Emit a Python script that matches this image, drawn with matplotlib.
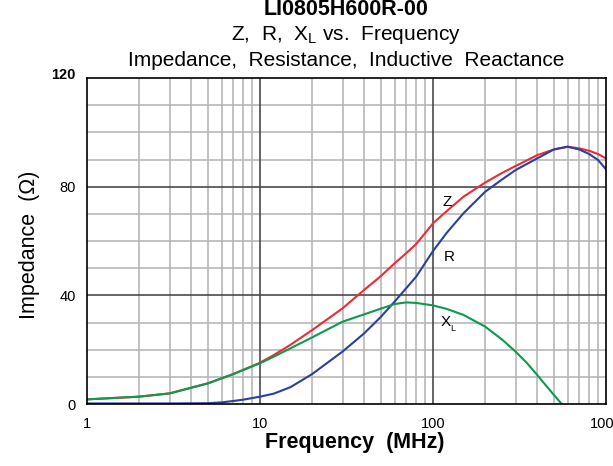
import matplotlib
matplotlib.use("Agg")
import matplotlib.pyplot as plt
from matplotlib.ticker import NullLocator

plt.rcParams['font.family'] = ['Liberation Sans', 'DejaVu Sans']
plt.rcParams['mathtext.fontset'] = 'custom'
plt.rcParams['mathtext.rm'] = 'Liberation Sans'

# Data
freq_z = [1, 2, 3, 5, 7, 10, 12, 15, 20, 30, 40, 50, 60, 70, 80, 100, 120, 150, 200, 250, 300, 400, 500, 600, 700, 800, 900, 1000]
z_vals = [1.7, 2.7, 3.9, 7.6, 11, 15.2, 18.0, 21.8, 27.2, 35.2, 42, 47.1, 51.8, 55.5, 58.9, 66.5, 71.0, 76.3, 81.5, 85.0, 87.6, 91.6, 93.7, 94.7, 94.1, 93.2, 92, 90.4]

freq_r = [1, 2, 3, 5, 6, 7, 8, 10, 12, 15, 20, 30, 40, 50, 60, 70, 80, 100, 120, 150, 200, 250, 300, 400, 500, 600, 700, 800, 900, 1000]
r_vals = [0.2, 0.2, 0.2, 0.3, 0.6, 1.1, 1.6, 2.7, 3.8, 6.2, 11, 19.3, 26, 32.1, 37.7, 42.6, 46.9, 56.3, 63.0, 70.2, 78.1, 82.6, 86.1, 90.4, 93.7, 94.7, 93.7, 92, 89.8, 86.4]

freq_x = [1, 2, 3, 5, 7, 10, 12, 15, 20, 30, 40, 50, 60, 70, 80, 100, 120, 150, 200, 250, 300, 350, 400, 450, 500, 530, 554]
x_vals = [1.7, 2.7, 3.9, 7.6, 11, 15, 17.4, 20.5, 24.5, 30.3, 33, 35.1, 36.8, 37.4, 37.2, 36.3, 35.0, 32.8, 28.5, 23.8, 19.3, 15.0, 10.7, 6.8, 3.3, 1.5, 0]

x_ticks = [1, 10, 100, 1000]
x_ticklabels = ["1", "10", "100", "1000"]
y_ticks = [0, 40, 80]
y_ticklabels = ["0", "40", "80"]
y_top_label = "120"

W, H = 613, 466
fig = plt.figure(figsize=(W / 100, H / 100), dpi=100)
ax = fig.add_axes([87 / W, (H - 404) / H, 519 / W, 326 / H])

ax.set_xscale('log')
ax.set_xlim(1, 1000)
ax.set_ylim(0, 120)

# grid
minor_x = [m * 10 ** e for e in range(0, 3) for m in range(2, 10)]
for fx in minor_x:
    ax.axvline(fx, color='#b8b8b8', lw=1.2, zorder=0)
for fx in [10, 100]:
    ax.axvline(fx, color='#4a4a4a', lw=1.2, zorder=0.5)
for yy in range(10, 120, 10):
    if yy % 40 == 0:
        ax.axhline(yy, color='#4a4a4a', lw=1.2, zorder=0.5)
    else:
        ax.axhline(yy, color='#b8b8b8', lw=1.2, zorder=0)

ax.plot(freq_z, z_vals, color='#ee2a35', lw=1.5, zorder=3)
ax.plot(freq_r, r_vals, color='#2b3f9c', lw=1.5, zorder=3)
ax.plot(freq_x, x_vals, color='#0d9a4c', lw=1.5, zorder=3)

def px2data(px, py):
    return 10 ** ((px - 87) / 173), (404 - py) / 2.717

ax.text(*px2data(447, 202), "Z", fontsize=11, ha='center', va='center', zorder=4)
ax.text(*px2data(449, 257), "R", fontsize=11, ha='center', va='center', zorder=4)
ax.text(*px2data(446, 322), "X", fontsize=11, ha='center', va='center', zorder=4)
ax.text(*px2data(453, 328), "L", fontsize=6.5, ha='center', va='center', zorder=4)

ax.xaxis.set_minor_locator(NullLocator())
ax.set_xticks(x_ticks)
ax.set_xticklabels(x_ticklabels, fontsize=10.5)
ax.set_yticks(y_ticks)
ax.set_yticklabels(y_ticklabels, fontsize=10.5)
ax.tick_params(axis='y', length=0, pad=8)
ax.tick_params(axis='x', length=0, pad=9)
fig.text(76 / W, 1 - 75 / H, y_top_label, fontsize=10.5, fontweight='bold', ha='right', va='center')

for s in ax.spines.values():
    s.set_color('black')
    s.set_linewidth(1.2)
    s.set_zorder(5)

cx = 346.5 / W
fig.text(cx, 1 - 15 / H, "LI0805H600R-00", fontsize=15.5, fontweight='bold', ha='center', va='baseline')
fig.text(cx, 1 - 39.5 / H, r"Z,  R,  X$_{\mathregular{L}}$ vs.  Frequency", fontsize=15, ha='center', va='baseline')
fig.text(cx, 1 - 66 / H, "Impedance,  Resistance,  Inductive  Reactance", fontsize=15, ha='center', va='baseline')

fig.text(355 / W, 1 - 448 / H, "Frequency  (MHz)", fontsize=15.5, fontweight='bold', ha='center', va='baseline')
fig.text(30 / W, 1 - 245 / H, "Impedance  (Ω)", fontsize=15.5, rotation=90, ha='center', va='center')

fig.savefig("out.png", dpi=100)
